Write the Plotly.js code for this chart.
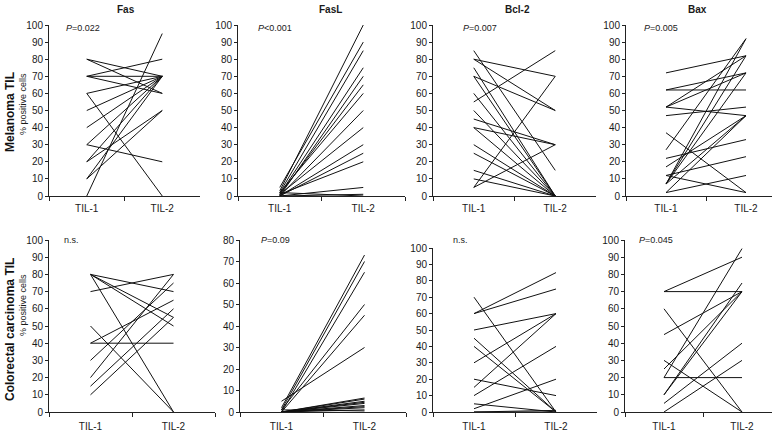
<!DOCTYPE html>
<html>
<head>
<meta charset="utf-8">
<script src="https://cdn.plot.ly/plotly-3.0.1.min.js"></script>
<style>html,body{margin:0;padding:0;background:#fff;}#chart{width:772px;height:432px;}</style>
</head>
<body>
<div id="chart"></div>
<script>
// Categories
const timepoints = ["TIL-1", "TIL-2"];
const markers = ["Fas", "FasL", "Bcl-2", "Bax"];
const rowLabels = ["Melanoma TIL", "Colorectal carcinoma TIL"];
const yAxisLabel = "% positive cells";
const pLabelsMel = ["<i>P</i>=0.022", "<i>P</i><0.001", "<i>P</i>=0.007", "<i>P</i>=0.005"];
const pLabelsCrc = ["n.s.", "<i>P</i>=0.09", "n.s.", "<i>P</i>=0.045"];

// Melanoma TIL (% positive cells), paired TIL-1 -> TIL-2
const melFasT1  = [80, 80, 70, 70, 70, 60, 60, 50, 40, 30, 30, 20, 20, 10, 10, 0];
const melFasT2  = [70, 60, 80, 70, 60, 70, 0, 70, 70, 70, 20, 70, 50, 70, 50, 95];
const melFasLT1 = [3, 5, 2, 1, 0, 1, 2, 0, 1, 0, 0, 1, 0, 0, 2];
const melFasLT2 = [100, 90, 85, 75, 70, 65, 60, 50, 40, 30, 25, 20, 5, 1, 0];
const melBclT1  = [85, 80, 80, 75, 70, 70, 60, 55, 50, 45, 40, 40, 30, 25, 15, 10, 5, 5];
const melBclT2  = [15, 70, 50, 0, 50, 0, 0, 85, 0, 30, 30, 0, 0, 0, 0, 0, 70, 30];
const melBaxT1  = [72, 62, 62, 52, 52, 52, 47, 37, 27, 22, 17, 12, 12, 7, 7, 7, 7, 2, 2];
const melBaxT2  = [82, 62, 72, 82, 47, 72, 52, 2, 92, 33, 47, 2, 23, 82, 72, 47, 92, 12, 47];

// Colorectal carcinoma TIL
const crcFasT1  = [80, 80, 80, 80, 70, 50, 40, 40, 30, 20, 15, 10];
const crcFasT2  = [70, 55, 50, 0, 80, 0, 40, 65, 75, 80, 60, 55];
const crcFasLT1 = [2, 1, 0, 1, 0, 5, 0, 0, 0, 0, 0, 0, 0, 0, 0, 1];
const crcFasLT2 = [73, 70, 65, 50, 45, 30, 6.5, 6, 5, 4.5, 4, 3, 2.5, 2, 1, 0.5];
const crcBclT1  = [70, 60, 60, 50, 45, 40, 30, 20, 15, 10, 5, 2, 0, 0];
const crcBclT2  = [0, 85, 75, 60, 0, 0, 60, 10, 60, 40, 0, 20, 0, 1];
const crcBaxT1  = [70, 70, 60, 45, 30, 25, 20, 20, 10, 10, 5, 0];
const crcBaxT2  = [90, 70, 0, 70, 0, 70, 20, 95, 70, 75, 40, 30];

const yMax = [100, 100, 100, 100, 100, 80, 100, 100];

const panels = [
  [melFasT1, melFasT2], [melFasLT1, melFasLT2], [melBclT1, melBclT2], [melBaxT1, melBaxT2],
  [crcFasT1, crcFasT2], [crcFasLT1, crcFasLT2], [crcBclT1, crcBclT2], [crcBaxT1, crcBaxT2]
];

// Layout geometry (pixels)
const W = 772, H = 432;
const xPix = [[49, 200], [238, 405], [433, 596], [626, 786], [49, 215], [240, 406], [433, 597], [625, 781]];
const yPix = [[196, 25], [196, 25], [196, 25], [196, 25], [412, 240], [412, 240], [412, 248], [412, 240]];
const labelStandoff = [3, 3, 3, 3, 5, 5, 5, 5];

const traces = [];
const layout = {
  width: W, height: H,
  margin: {l: 0, r: 0, t: 0, b: 0},
  paper_bgcolor: "#ffffff", plot_bgcolor: "#ffffff",
  showlegend: false,
  font: {family: "Liberation Sans, Arial, sans-serif", size: 10, color: "#1a1a1a"},
  annotations: []
};

panels.forEach((p, i) => {
  const n = i + 1;
  const xs = [], ys = [];
  for (let k = 0; k < p[0].length; k++) {
    xs.push(timepoints[0], timepoints[1], null);
    ys.push(p[0][k], p[1][k], null);
  }
  traces.push({
    type: "scatter", mode: "lines", x: xs, y: ys,
    xaxis: "x" + n, yaxis: "y" + n,
    line: {color: "#111111", width: 1},
    connectgaps: false, hoverinfo: "skip"
  });
  const x0 = xPix[i][0], x1full = xPix[i][1];
  const catW = (x1full - x0) / 2;
  const x1 = Math.min(x1full, W);
  const rangeMax = -0.5 + (x1 - x0) / catW;
  const sfx = n === 1 ? "" : String(n);
  layout["xaxis" + sfx] = {
    type: "category", categoryorder: "array", categoryarray: timepoints,
    domain: [x0 / W, x1 / W], range: [-0.5, rangeMax],
    anchor: "y" + sfx,
    showline: true, linecolor: "#222222", linewidth: 1,
    ticks: "outside", ticklen: 4, tickwidth: 1, tickcolor: "#222222",
    tickson: "boundaries", showgrid: false, zeroline: false,
    ticklabelstandoff: labelStandoff[i],
    tickfont: {size: 10, color: "#1a1a1a"}, fixedrange: true
  };
  layout["yaxis" + sfx] = {
    domain: [(H - yPix[i][0]) / H, (H - yPix[i][1]) / H],
    range: [0, yMax[i]], anchor: "x" + sfx,
    tick0: 0, dtick: 10,
    showline: true, linecolor: "#222222", linewidth: 1,
    ticks: "outside", ticklen: 3, tickwidth: 1, tickcolor: "#222222",
    showgrid: false, zeroline: false,
    tickfont: {size: 10, color: "#1a1a1a"}, fixedrange: true
  };
});

// Column titles
const titleX = [126, 330, 517, 697];
markers.forEach((m, j) => {
  layout.annotations.push({
    text: "<b>" + m + "</b>", xref: "paper", yref: "paper",
    x: titleX[j] / W, y: (H - 9) / H, xanchor: "center", yanchor: "middle",
    showarrow: false, font: {size: 10, color: "#1a1a1a"}
  });
});

// P-values
const pXMel = [64, 256, 461, 642];
const pXCrc = [62, 259, 451, 637];
pLabelsMel.forEach((t, j) => {
  layout.annotations.push({
    text: t, xref: "paper", yref: "paper", x: pXMel[j] / W, y: (H - 28) / H,
    xanchor: "left", yanchor: "middle", showarrow: false, font: {size: 9, color: "#1a1a1a"}
  });
});
pLabelsCrc.forEach((t, j) => {
  layout.annotations.push({
    text: t, xref: "paper", yref: "paper", x: pXCrc[j] / W, y: (H - 240) / H,
    xanchor: "left", yanchor: "middle", showarrow: false, font: {size: 9, color: "#1a1a1a"}
  });
});

// Row labels
const rowY = [112, 330];
const subY = [104, 305];
rowLabels.forEach((t, j) => {
  layout.annotations.push({
    text: "<b>" + t + "</b>", xref: "paper", yref: "paper", x: 10 / W, y: (H - rowY[j]) / H,
    xanchor: "center", yanchor: "middle", textangle: -90, showarrow: false,
    font: {size: 12, color: "#111111"}
  });
  layout.annotations.push({
    text: yAxisLabel, xref: "paper", yref: "paper", x: 23 / W, y: (H - subY[j]) / H,
    xanchor: "center", yanchor: "middle", textangle: -90, showarrow: false,
    font: {size: 9, color: "#1a1a1a"}
  });
});

Plotly.newPlot("chart", traces, layout, {staticPlot: true, displayModeBar: false});
</script>
</body>
</html>
